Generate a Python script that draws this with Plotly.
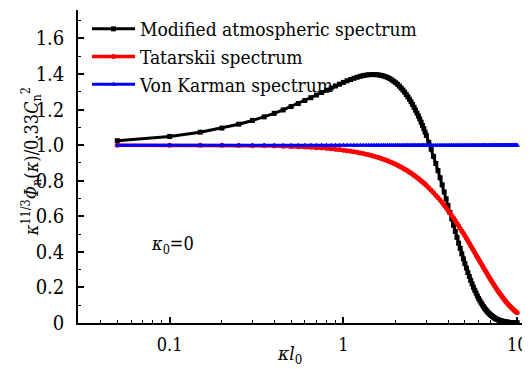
import plotly.graph_objects as go

# kappa * l0 sample positions
kl0 = [
    0.05, 0.10, 0.15, 0.20, 0.25, 0.30, 0.35, 0.40, 0.45, 0.50,
    0.55, 0.60, 0.65, 0.70, 0.75, 0.80, 0.85, 0.90, 0.95, 1.00,
    1.05, 1.10, 1.15, 1.20, 1.25, 1.30, 1.35, 1.40, 1.45, 1.50,
    1.55, 1.60, 1.65, 1.70, 1.75, 1.80, 1.85, 1.90, 1.95, 2.00,
    2.05, 2.10, 2.15, 2.20, 2.25, 2.30, 2.35, 2.40, 2.45, 2.50,
    2.55, 2.60, 2.65, 2.70, 2.75, 2.80, 2.85, 2.90, 2.95, 3.00,
    3.1, 3.2, 3.3, 3.4, 3.5, 3.6, 3.7, 3.8, 3.9, 4.0,
    4.1, 4.2, 4.3, 4.4, 4.5, 4.6, 4.7, 4.8, 4.9, 5.0,
    5.1, 5.2, 5.3, 5.4, 5.5, 5.6, 5.7, 5.8, 5.9, 6.0,
    6.1, 6.2, 6.3, 6.4, 6.5, 6.6, 6.7, 6.8, 6.9, 7.0,
    7.1, 7.2, 7.3, 7.4, 7.5, 7.6, 7.7, 7.8, 7.9, 8.0,
    8.1, 8.2, 8.3, 8.4, 8.5, 8.6, 8.7, 8.8, 8.9, 9.0,
    9.1, 9.2, 9.3, 9.4, 9.5, 9.6, 9.7, 9.8, 9.9, 10.0,
]

modified = [
    1.025, 1.049, 1.073, 1.096, 1.118, 1.139, 1.159, 1.179, 1.198, 1.217,
    1.234, 1.251, 1.267, 1.282, 1.296, 1.309, 1.321, 1.333, 1.343, 1.353,
    1.362, 1.369, 1.376, 1.382, 1.387, 1.391, 1.394, 1.396, 1.397, 1.397,
    1.396, 1.395, 1.392, 1.389, 1.385, 1.380, 1.374, 1.367, 1.359, 1.351,
    1.342, 1.332, 1.321, 1.310, 1.298, 1.285, 1.272, 1.258, 1.244, 1.229,
    1.213, 1.197, 1.181, 1.164, 1.147, 1.129, 1.111, 1.093, 1.074, 1.055,
    1.016, 0.977, 0.937, 0.897, 0.857, 0.817, 0.777, 0.737, 0.698, 0.660,
    0.622, 0.585, 0.550, 0.515, 0.482, 0.449, 0.419, 0.389, 0.361, 0.334,
    0.309, 0.284, 0.262, 0.240, 0.220, 0.201, 0.184, 0.168, 0.152, 0.138,
    0.125, 0.113, 0.102, 0.092, 0.082, 0.074, 0.066, 0.059, 0.053, 0.047,
    0.042, 0.037, 0.033, 0.029, 0.025, 0.022, 0.020, 0.017, 0.015, 0.013,
    0.011, 0.010, 0.009, 0.007, 0.006, 0.006, 0.005, 0.004, 0.004, 0.003,
    0.003, 0.002, 0.002, 0.002, 0.001, 0.001, 0.001, 0.001, 0.001, 0.001,
]

tatarskii = [
    1.000, 1.000, 0.999, 0.999, 0.998, 0.997, 0.997, 0.995, 0.994, 0.993,
    0.991, 0.990, 0.988, 0.986, 0.984, 0.982, 0.980, 0.977, 0.975, 0.972,
    0.969, 0.966, 0.963, 0.960, 0.956, 0.953, 0.949, 0.946, 0.942, 0.938,
    0.934, 0.930, 0.925, 0.921, 0.916, 0.912, 0.907, 0.902, 0.897, 0.892,
    0.887, 0.882, 0.876, 0.871, 0.865, 0.860, 0.854, 0.848, 0.843, 0.837,
    0.831, 0.825, 0.818, 0.812, 0.806, 0.800, 0.793, 0.787, 0.780, 0.774,
    0.760, 0.747, 0.733, 0.719, 0.705, 0.691, 0.677, 0.662, 0.648, 0.633,
    0.619, 0.605, 0.590, 0.576, 0.561, 0.547, 0.532, 0.518, 0.504, 0.490,
    0.476, 0.462, 0.449, 0.435, 0.422, 0.409, 0.396, 0.383, 0.370, 0.358,
    0.346, 0.334, 0.322, 0.311, 0.300, 0.289, 0.278, 0.267, 0.257, 0.247,
    0.237, 0.228, 0.219, 0.210, 0.201, 0.192, 0.184, 0.176, 0.169, 0.161,
    0.154, 0.147, 0.140, 0.134, 0.127, 0.121, 0.115, 0.110, 0.104, 0.099,
    0.094, 0.089, 0.085, 0.080, 0.076, 0.072, 0.068, 0.065, 0.061, 0.058,
]

von_karman = [
    1.0, 1.0, 1.0, 1.0, 1.0, 1.0, 1.0, 1.0, 1.0, 1.0,
    1.0, 1.0, 1.0, 1.0, 1.0, 1.0, 1.0, 1.0, 1.0, 1.0,
    1.0, 1.0, 1.0, 1.0, 1.0, 1.0, 1.0, 1.0, 1.0, 1.0,
    1.0, 1.0, 1.0, 1.0, 1.0, 1.0, 1.0, 1.0, 1.0, 1.0,
    1.0, 1.0, 1.0, 1.0, 1.0, 1.0, 1.0, 1.0, 1.0, 1.0,
    1.0, 1.0, 1.0, 1.0, 1.0, 1.0, 1.0, 1.0, 1.0, 1.0,
    1.0, 1.0, 1.0, 1.0, 1.0, 1.0, 1.0, 1.0, 1.0, 1.0,
    1.0, 1.0, 1.0, 1.0, 1.0, 1.0, 1.0, 1.0, 1.0, 1.0,
    1.0, 1.0, 1.0, 1.0, 1.0, 1.0, 1.0, 1.0, 1.0, 1.0,
    1.0, 1.0, 1.0, 1.0, 1.0, 1.0, 1.0, 1.0, 1.0, 1.0,
    1.0, 1.0, 1.0, 1.0, 1.0, 1.0, 1.0, 1.0, 1.0, 1.0,
    1.0, 1.0, 1.0, 1.0, 1.0, 1.0, 1.0, 1.0, 1.0, 1.0,
    1.0, 1.0, 1.0, 1.0, 1.0, 1.0, 1.0, 1.0, 1.0, 1.0,
]

series_names = ["Modified atmospheric spectrum", "Tatarskii spectrum", "Von Karman spectrum"]

x_tickvals = [0.1, 1, 10]
x_ticktext = ["0.1", "1", "10"]
x_minor = [0.04, 0.05, 0.06, 0.07, 0.08, 0.09,
           0.2, 0.3, 0.4, 0.5, 0.6, 0.7, 0.8, 0.9,
           2, 3, 4, 5, 6, 7, 8, 9]
y_tickvals = [0, 0.2, 0.4, 0.6, 0.8, 1.0, 1.2, 1.4, 1.6]
y_ticktext = ["0", "0.2", "0.4", "0.6", "0.8", "1.0", "1.2", "1.4", "1.6"]

FONT = "'DejaVu Serif Condensed', 'DejaVu Serif', serif"

fig = go.Figure()
fig.add_trace(go.Scatter(
    x=kl0, y=modified, name=series_names[0], mode="lines+markers",
    line=dict(color="black", width=3),
    marker=dict(symbol="square", size=5, color="black"),
))
fig.add_trace(go.Scatter(
    x=kl0, y=tatarskii, name=series_names[1], mode="lines+markers",
    line=dict(color="#ff0000", width=3.5),
    marker=dict(symbol="circle", size=5, color="#ff0000"),
))
fig.add_trace(go.Scatter(
    x=kl0, y=von_karman, name=series_names[2], mode="lines+markers",
    line=dict(color="#0000ff", width=3),
    marker=dict(symbol="triangle-up", size=5, color="#0000ff"),
))

# The page body has an 8px default margin, so the figure is 8px smaller
# and its left/top margins are reduced by 8px.
fig.update_layout(
    width=522, height=361,
    margin=dict(l=70, r=2, t=2, b=46, autoexpand=False),
    paper_bgcolor="white", plot_bgcolor="white",
    font=dict(family=FONT, color="black", size=19),
    showlegend=True,
    legend=dict(
        x=0.02, y=1.0, xanchor="left", yanchor="top",
        bgcolor="rgba(0,0,0,0)", borderwidth=0,
        font=dict(family=FONT, size=19, color="black"),
        tracegroupgap=0, itemwidth=43,
    ),
    xaxis=dict(
        type="log", range=[-1.527, 1.062],
        showline=True, linecolor="black", linewidth=1.5,
        showgrid=False, zeroline=False, mirror=False,
        ticks="inside", ticklen=6, tickwidth=1.5, tickcolor="black",
        tickvals=x_tickvals, ticktext=x_ticktext,
        tickfont=dict(family=FONT, size=18),
        minor=dict(ticks="inside", ticklen=3, tickwidth=1.2, tickcolor="black",
                   tickvals=x_minor, showgrid=False),
        ticklabelstandoff=5,
    ),
    yaxis=dict(
        range=[0, 1.76],
        showline=True, linecolor="black", linewidth=1.5,
        showgrid=False, zeroline=False, mirror=False,
        ticks="inside", ticklen=6, tickwidth=1.5, tickcolor="black",
        tickvals=y_tickvals, ticktext=y_ticktext,
        tickfont=dict(family=FONT, size=20),
        minor=dict(ticks="inside", ticklen=3, tickwidth=1.2, tickcolor="black",
                   dtick=0.1, showgrid=False),
        ticklabelstandoff=8,
    ),
    xaxis2=dict(
        overlaying="x", side="top", anchor="y",
        range=[-1.034, 8.867], dtick=1, tick0=0,
        showline=True, linecolor="black", linewidth=1.5,
        showgrid=False, zeroline=False,
        ticks="inside", ticklen=5, tickwidth=1.5, tickcolor="black",
        showticklabels=False,
    ),
    yaxis2=dict(
        overlaying="y", side="right", anchor="x",
        range=[0, 5.0], dtick=1, tick0=0,
        showline=True, linecolor="black", linewidth=1.5,
        showgrid=False, zeroline=False,
        ticks="inside", ticklen=5, tickwidth=1.5, tickcolor="black",
        minor=dict(ticks="inside", ticklen=3, tickwidth=1.2, tickcolor="black",
                   dtick=0.5, showgrid=False),
        showticklabels=False,
    ),
    annotations=[
        dict(text="<i>κ</i><sup>11/3</sup><i>Φ</i><sub>n</sub>(<i>κ</i>)/0.33<i>C</i><sub>n</sub><sup>2</sup>",
             xref="paper", yref="paper", x=-0.104, y=0.514,
             xanchor="center", yanchor="middle", textangle=-90,
             showarrow=False, font=dict(family=FONT, size=18)),
        dict(text="<i>κl</i><sub>0</sub>",
             xref="paper", yref="paper", x=0.471, y=-0.102,
             xanchor="center", yanchor="middle",
             showarrow=False, font=dict(family=FONT, size=19)),
        dict(text="<i>κ</i><sub>0</sub>=0",
             xref="paper", yref="paper", x=0.209, y=0.249,
             xanchor="center", yanchor="middle",
             showarrow=False, font=dict(family=FONT, size=18)),
    ],
)

fig.write_html("out.html")
